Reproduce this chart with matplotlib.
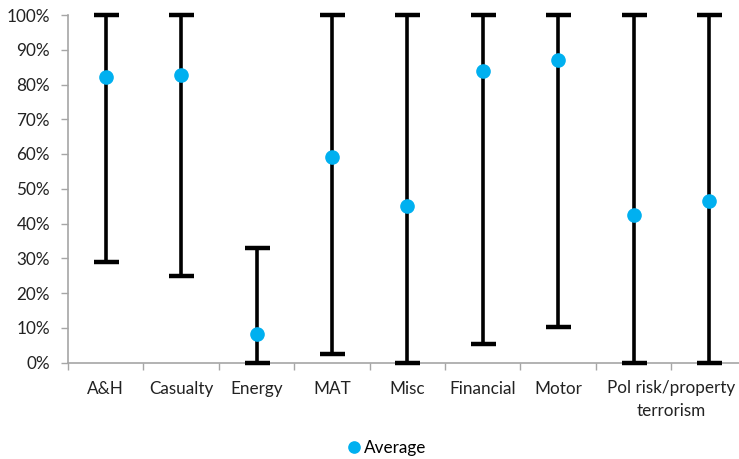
import numpy as np
import matplotlib
matplotlib.use("Agg")
import matplotlib.pyplot as plt
from matplotlib.ticker import FuncFormatter

plt.rcParams["font.family"] = ["Lato", "DejaVu Sans"]

categories = ["A&H", "Casualty", "Energy", "MAT", "Misc", "Financial", "Motor",
              "Pol risk", "property terrorism"]
low = [29, 25, 0, 2.4, 0, 5.3, 10.1, 0, 0]
high = [100, 100, 33, 100, 100, 100, 100, 100, 100]
average = [82.3, 82.6, 8.1, 59, 45, 84, 87, 42.4, 46.5]

BLUE = "#00B0F0"
GREY = "#A6A6A6"
FS = 12.3


def main():
	fig = plt.figure(figsize=(7.39, 4.59), dpi=100)
	ax = fig.add_axes([68 / 739, (459 - 362.5) / 459, (746.7 - 68) / 739, (362.5 - 15) / 459])

	x = np.arange(len(categories))
	lo = np.array(low); hi = np.array(high); av = np.array(average)
	eb = ax.errorbar(x, av, yerr=[av - lo, hi - av], fmt="none", ecolor="black",
	                 elinewidth=2.6, capsize=9, capthick=3.2, zorder=3)
	for art in eb.lines[1] + eb.lines[2]:
		art.set_clip_on(False)
	ax.plot(x, av, "o", color=BLUE, markersize=9.5, linestyle="none", label="Average",
	        zorder=4, clip_on=False)

	ax.set_xlim(-0.5, len(categories) - 0.5)
	ax.set_ylim(0, 100)
	ax.set_yticks(np.arange(0, 101, 10))
	ax.yaxis.set_major_formatter(FuncFormatter(lambda v, _: f"{v:.0f}%"))

	# tick marks sit at category boundaries, labels at centres
	ax.set_xticks(np.arange(-0.5, len(categories), 1.0), minor=True)
	ax.set_xticks(x[:7])
	ax.set_xticklabels(categories[:7])
	ax.tick_params(axis="x", which="major", length=0, pad=13, labelsize=FS, colors="#222222")
	ax.tick_params(axis="x", which="minor", length=5, color=GREY, width=1)
	ax.tick_params(axis="y", length=5, color=GREY, width=1, labelsize=FS,
	               labelcolor="#222222", pad=8)
	ax.text(7.5, -5.0, categories[7] + "/" + categories[8].replace(" ", "\n", 1),
	        ha="center", va="top", fontsize=FS, color="#222222", linespacing=1.55,
	        transform=ax.transData)

	for side in ["top", "right"]:
		ax.spines[side].set_visible(False)
	for side in ["left", "bottom"]:
		ax.spines[side].set_color(GREY)
		ax.spines[side].set_linewidth(1.2)
		ax.spines[side].set_zorder(1)

	fig.legend(loc="center", bbox_to_anchor=(386 / 739, 1 - 448 / 459), frameon=False,
	           fontsize=FS, handletextpad=0.1, handlelength=1.0, markerscale=0.85)

	fig.savefig("out.png", dpi=100)
	plt.close(fig)


if __name__ == "__main__":
	main()
